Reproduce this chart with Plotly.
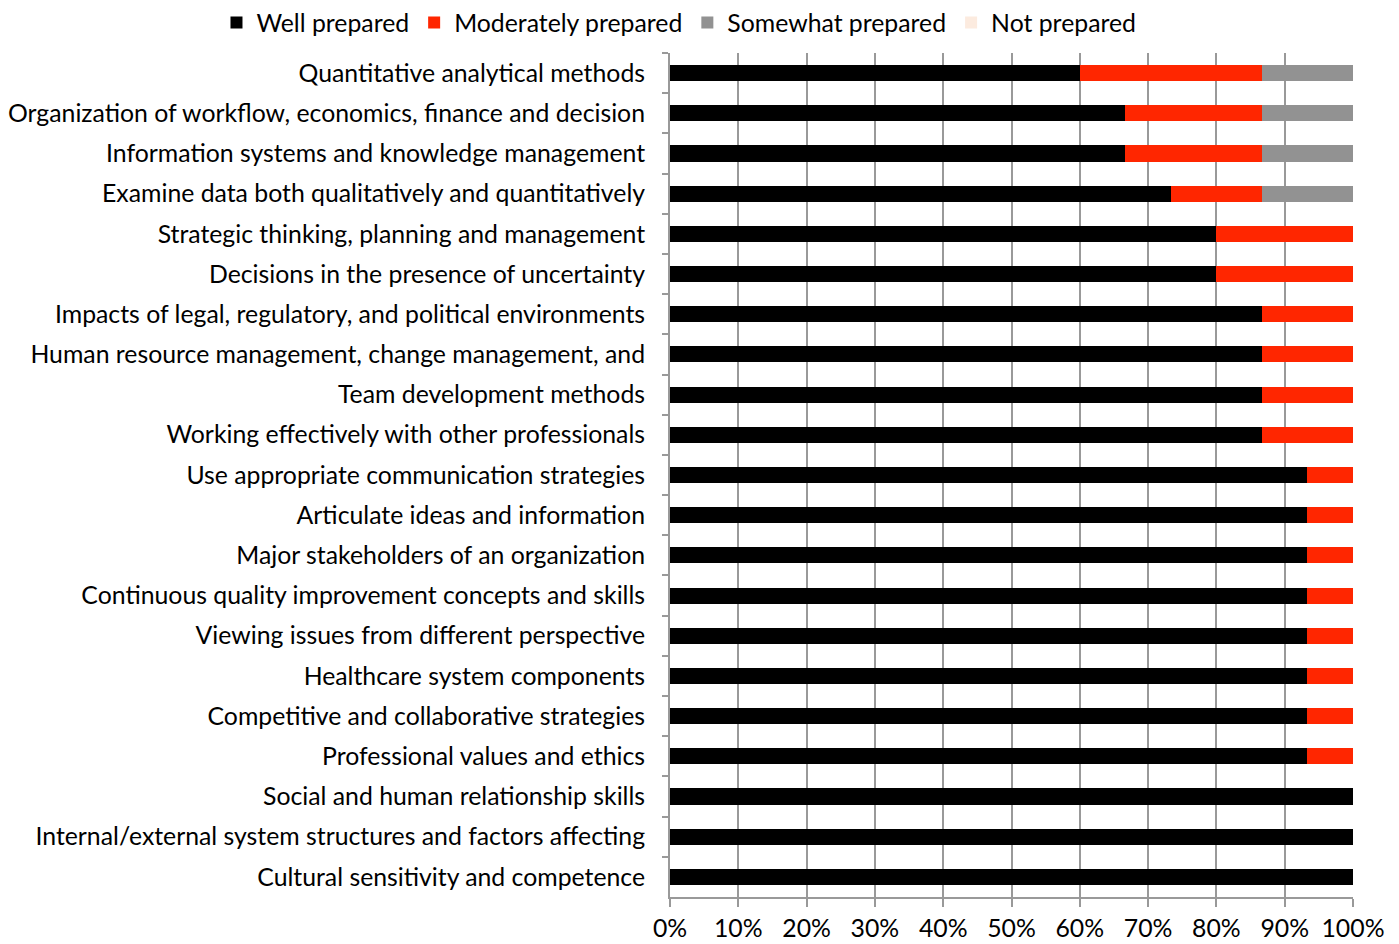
import plotly.graph_objects as go

categories = [
    "Quantitative analytical methods",
    "Organization of workflow, economics, finance and decision",
    "Information systems and knowledge management",
    "Examine data both qualitatively and quantitatively",
    "Strategic thinking, planning and management",
    "Decisions in the presence of uncertainty",
    "Impacts of legal, regulatory, and political environments",
    "Human resource management, change management, and",
    "Team development methods",
    "Working effectively with other professionals",
    "Use appropriate communication strategies",
    "Articulate ideas and information",
    "Major stakeholders of an organization",
    "Continuous quality improvement concepts and skills",
    "Viewing issues from different perspective",
    "Healthcare system components",
    "Competitive and collaborative strategies",
    "Professional values and ethics",
    "Social and human relationship skills",
    "Internal/external system structures and factors affecting",
    "Cultural sensitivity and competence",
]

well = [60.0, 66.67, 66.67, 73.33, 80.0, 80.0, 86.67, 86.67, 86.67, 86.67,
        93.33, 93.33, 93.33, 93.33, 93.33, 93.33, 93.33, 93.33, 100.0, 100.0, 100.0]
moderately = [26.67, 20.0, 20.0, 13.33, 20.0, 20.0, 13.33, 13.33, 13.33, 13.33,
              6.67, 6.67, 6.67, 6.67, 6.67, 6.67, 6.67, 6.67, 0, 0, 0]
somewhat = [13.33, 13.33, 13.33, 13.33, 0, 0, 0, 0, 0, 0,
            0, 0, 0, 0, 0, 0, 0, 0, 0, 0, 0]
not_prepared = [0] * 21

series = [
    ("Well prepared", well, "#000000"),
    ("Moderately prepared", moderately, "#FF2600"),
    ("Somewhat prepared", somewhat, "#929292"),
    ("Not prepared", not_prepared, "#FCEBDF"),
]

FONT = "Lato"
FS = 24.8

fig = go.Figure()
for name, vals, color in series:
    fig.add_trace(go.Bar(
        y=categories, x=vals, name=name, orientation="h",
        marker=dict(color=color, line=dict(width=0)),
    ))

fig.update_layout(
    barmode="stack",
    bargap=0.6,
    width=1399, height=944,
    paper_bgcolor="white", plot_bgcolor="white",
    margin=dict(l=670, r=46, t=53, b=47, autoexpand=False),
    font=dict(family=FONT, size=FS, color="#000000"),
    legend=dict(orientation="h", x=-0.664, xanchor="left", xref="paper",
                y=1.063, yanchor="top", yref="paper",
                font=dict(family=FONT, size=FS),
                itemwidth=30, traceorder="normal"),
    showlegend=True,
)

fig.update_xaxes(
    range=[0, 100], tickvals=list(range(0, 101, 10)),
    ticktext=[f"{v}%" for v in range(0, 101, 10)],
    showgrid=True, gridcolor="#999999", gridwidth=2,
    showline=True, linecolor="#999999", linewidth=2,
    ticks="outside", ticklen=8, tickcolor="#999999", tickwidth=2,
    tickfont=dict(family=FONT, size=FS), zeroline=False,
)
fig.update_yaxes(
    autorange="reversed", type="category",
    showline=True, linecolor="#999999", linewidth=2,
    ticks="outside", ticklen=6, tickcolor="#999999", tickwidth=2,
    tickson="boundaries", showgrid=False, ticklabelstandoff=18,
    tickfont=dict(family=FONT, size=FS),
)

fig.write_html("out.html", config={"displayModeBar": False},
               post_script="document.body.style.margin='0px';")
